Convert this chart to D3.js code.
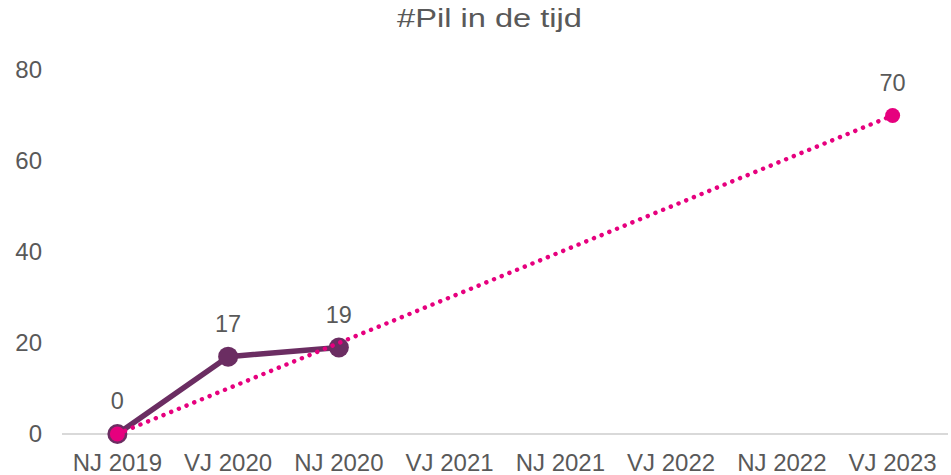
<!DOCTYPE html>
<html>
<head>
<meta charset="utf-8">
<script src="https://cdn.jsdelivr.net/npm/d3@7"></script>
<style>
  body { margin: 0; background: #fff; }
  svg text { font-family: "Liberation Sans", Arial, sans-serif; fill: #595959; }
</style>
</head>
<body>
<script>
var categories = ["NJ 2019", "VJ 2020", "NJ 2020", "VJ 2021", "NJ 2021", "VJ 2022", "NJ 2022", "VJ 2023"];
var actual = [0, 17, 19, null, null, null, null, null];
var target = [0, null, null, null, null, null, null, 70];
var yTicks = [0, 20, 40, 60, 80];

var width = 951, height = 475;
var margin = {top: 70, right: 3, bottom: 41, left: 62};

var svg = d3.select("body").append("svg")
    .attr("width", width)
    .attr("height", height);

var x = d3.scalePoint()
    .domain(categories)
    .range([margin.left, width - margin.right])
    .padding(0.5);

var y = d3.scaleLinear()
    .domain([0, 80])
    .range([height - margin.bottom, margin.top]);

// title (glyphs in the original are a bit wider than Arial)
svg.append("text")
    .attr("x", 397)
    .attr("y", 27)
    .attr("font-size", "26.5px")
    .attr("textLength", 185)
    .attr("lengthAdjust", "spacingAndGlyphs")
    .text("#Pil in de tijd");

// y labels
svg.append("g").selectAll("text")
    .data(yTicks)
    .enter().append("text")
    .attr("x", 42)
    .attr("y", function(d) { return y(d); })
    .attr("dy", "0.35em")
    .attr("text-anchor", "end")
    .attr("font-size", "24px")
    .text(function(d) { return d; });

// baseline
svg.append("line")
    .attr("x1", margin.left)
    .attr("x2", width - margin.right)
    .attr("y1", y(0))
    .attr("y2", y(0))
    .attr("stroke", "#d9d9d9")
    .attr("stroke-width", 2);

// x labels
svg.append("g").selectAll("text")
    .data(categories)
    .enter().append("text")
    .attr("x", function(d) { return x(d); })
    .attr("y", 471)
    .attr("text-anchor", "middle")
    .attr("font-size", "24px")
    .text(function(d) { return d; });

function pts(vals) {
    return vals.map(function(v, i) { return {c: categories[i], v: v}; })
        .filter(function(d) { return d.v !== null; });
}

var line = d3.line()
    .x(function(d) { return x(d.c); })
    .y(function(d) { return y(d.v); });

var actPts = pts(actual), tgtPts = pts(target);

// purple series
svg.append("path")
    .datum(actPts)
    .attr("d", line)
    .attr("fill", "none")
    .attr("stroke", "#6b2d62")
    .attr("stroke-width", 5.5)
    .attr("stroke-linejoin", "round");

svg.append("g").selectAll("circle")
    .data(actPts)
    .enter().append("circle")
    .attr("cx", function(d) { return x(d.c); })
    .attr("cy", function(d) { return y(d.v); })
    .attr("r", 10)
    .attr("fill", "#6b2d62");

// pink dotted series
svg.append("path")
    .datum(tgtPts)
    .attr("d", line)
    .attr("fill", "none")
    .attr("stroke", "#e6007e")
    .attr("stroke-width", 4.5)
    .attr("stroke-linecap", "round")
    .attr("stroke-dasharray", "0.01 8.3");

svg.append("g").selectAll("circle")
    .data(tgtPts)
    .enter().append("circle")
    .attr("cx", function(d) { return x(d.c); })
    .attr("cy", function(d) { return y(d.v); })
    .attr("r", 7.5)
    .attr("fill", "#e6007e");

// data labels
var labels = actPts.concat(tgtPts.filter(function(d) { return d.v !== 0; }));
svg.append("g").selectAll("text")
    .data(labels)
    .enter().append("text")
    .attr("x", function(d) { return x(d.c); })
    .attr("y", function(d) { return y(d.v) - 33; })
    .attr("dy", "0.35em")
    .attr("text-anchor", "middle")
    .attr("font-size", "23.5px")
    .text(function(d) { return d.v; });
</script>
</body>
</html>
